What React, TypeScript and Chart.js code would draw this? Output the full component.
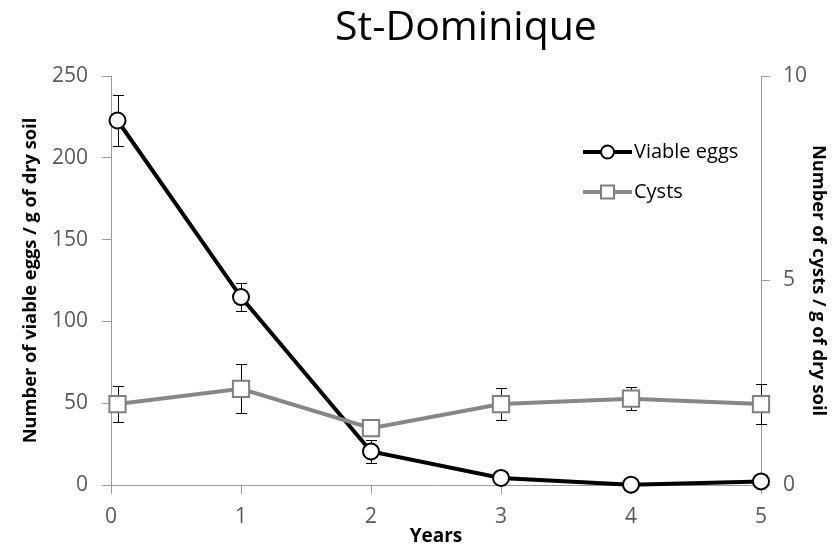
import React, { useEffect, useRef } from "react";
import { Chart, registerables } from "chart.js";

Chart.register(...registerables);

const chartTitle = "St-Dominique";
const years = [0.05, 1, 2, 3, 4, 5];
const viableEggs = [222.8, 114.9, 20.5, 4.3, 0.2, 2.2];
const viableEggsErr = [15.6, 8.8, 7.0, 1.5, 0.5, 1.0];
const cysts = [1.98, 2.35, 1.39, 1.98, 2.11, 1.98];
const cystsErr = [0.44, 0.6, 0.2, 0.38, 0.28, 0.49];
const seriesNames = ["Viable eggs", "Cysts"];
const xTitle = "Years";
const yLeftTitle = "Number of viable eggs / g of dry soil";
const yRightTitle = "Number of cysts / g of dry soil";

const FONT = "'Open Sans', sans-serif";
const EGG_COLOR = "#000000";
const CYST_COLOR = "#878787";
const AXIS_COLOR = "#9a9a9a";
const TICK_TEXT = "#595959";

const errorBarsPlugin = {
  id: "errorBars",
  beforeDatasetDraw(chart: any, args: any) {
    const ds = chart.data.datasets[args.index];
    const errs: number[] = ds.errors;
    if (!errs) return;
    const xScale = chart.scales.x;
    const yScale = chart.scales[ds.yAxisID];
    const ctx = chart.ctx;
    ctx.save();
    ctx.strokeStyle = "#000";
    ctx.lineWidth = 1;
    ds.data.forEach((p: any, i: number) => {
      const x = Math.round(xScale.getPixelForValue(p.x)) + 0.5;
      const yt = Math.round(yScale.getPixelForValue(p.y + errs[i])) + 0.5;
      const yb = Math.round(yScale.getPixelForValue(Math.max(0, p.y - errs[i]))) + 0.5;
      ctx.beginPath();
      ctx.moveTo(x, yt);
      ctx.lineTo(x, yb);
      ctx.moveTo(x - 5.5, yt);
      ctx.lineTo(x + 5.5, yt);
      ctx.moveTo(x - 5.5, yb);
      ctx.lineTo(x + 5.5, yb);
      ctx.stroke();
    });
    ctx.restore();
  },
};

const decorPlugin = {
  id: "decor",
  afterDraw(chart: any) {
    const ctx = chart.ctx;
    const area = chart.chartArea;
    ctx.save();
    // title
    ctx.fillStyle = "#000";
    ctx.font = `41px ${FONT}`;
    ctx.textAlign = "center";
    ctx.textBaseline = "alphabetic";
    ctx.fillText(chartTitle, 466, 40);
    // legend
    const lx1 = area.left + 472;
    const lx2 = area.left + 521;
    const mid = (lx1 + lx2) / 2;
    const rows = [
      { y: area.top + 76, color: EGG_COLOR, shape: "circle", name: seriesNames[0] },
      { y: area.top + 116, color: CYST_COLOR, shape: "rect", name: seriesNames[1] },
    ];
    rows.forEach((r) => {
      ctx.strokeStyle = r.color;
      ctx.lineWidth = 4;
      ctx.beginPath();
      ctx.moveTo(lx1, r.y);
      ctx.lineTo(lx2, r.y);
      ctx.stroke();
      ctx.fillStyle = "#fff";
      ctx.lineWidth = 2;
      ctx.beginPath();
      if (r.shape === "circle") {
        ctx.arc(mid, r.y, 6.5, 0, Math.PI * 2);
      } else {
        ctx.strokeStyle = "#7f7f7f";
        ctx.rect(mid - 6.5, r.y - 6.5, 13, 13);
      }
      ctx.fill();
      ctx.stroke();
      ctx.fillStyle = "#000";
      ctx.font = `20px ${FONT}`;
      ctx.textAlign = "left";
      ctx.textBaseline = "middle";
      ctx.fillText(r.name, lx2 + 2, r.y);
    });
    ctx.restore();
  },
};

export default function App() {
  const canvasRef = useRef<HTMLCanvasElement | null>(null);

  useEffect(() => {
    document.body.style.margin = "0";
    const canvas = canvasRef.current;
    if (!canvas) return;
    const chart = new Chart(canvas, {
      type: "line",
      data: {
        datasets: [
          {
            label: seriesNames[0],
            data: years.map((x, i) => ({ x, y: viableEggs[i] })),
            errors: viableEggsErr,
            yAxisID: "y",
            borderColor: EGG_COLOR,
            borderWidth: 4,
            pointRadius: 8,
            pointHoverRadius: 8,
            pointBorderWidth: 2,
            pointBackgroundColor: "#fff",
            pointBorderColor: EGG_COLOR,
            pointStyle: "circle",
            tension: 0,
            clip: false,
            order: 2,
          } as any,
          {
            label: seriesNames[1],
            data: years.map((x, i) => ({ x, y: cysts[i] })),
            errors: cystsErr,
            yAxisID: "y1",
            borderColor: CYST_COLOR,
            borderWidth: 4,
            pointRadius: 11.5,
            pointHoverRadius: 11.5,
            pointBorderWidth: 2,
            pointBackgroundColor: "#fff",
            pointBorderColor: "#7f7f7f",
            pointStyle: "rect",
            tension: 0,
            clip: false,
            order: 1,
          } as any,
        ],
      },
      options: {
        animation: false,
        responsive: false,
        layout: { padding: { top: 76, left: 0, right: 0, bottom: 0 } },
        plugins: {
          legend: { display: false },
          title: { display: false },
          tooltip: { enabled: false },
        },
        scales: {
          x: {
            type: "linear",
            min: 0,
            max: 5,
            ticks: { stepSize: 1, color: TICK_TEXT, font: { family: FONT, size: 21 }, padding: 10 },
            grid: { drawOnChartArea: false, color: AXIS_COLOR, tickLength: 9 },
            border: { color: AXIS_COLOR, width: 1 },
            title: {
              display: true,
              text: xTitle,
              color: "#000",
              font: { family: FONT, size: 19, weight: "bold" },
              padding: { top: 0, bottom: 0 },
            },
            afterFit(scale: any) {
              scale.height = 63;
            },
          },
          y: {
            type: "linear",
            position: "left",
            min: 0,
            max: 250,
            ticks: { stepSize: 50, color: TICK_TEXT, font: { family: FONT, size: 21 }, padding: 14 },
            grid: { drawOnChartArea: false, color: AXIS_COLOR, tickLength: 9 },
            border: { color: AXIS_COLOR, width: 1 },
            title: {
              display: true,
              text: yLeftTitle,
              color: "#000",
              font: { family: FONT, size: 18.3, weight: "bold" },
              padding: { top: 20, bottom: 0 },
            },
            afterFit(scale: any) {
              scale.width = 111;
            },
          },
          y1: {
            type: "linear",
            position: "right",
            min: 0,
            max: 10,
            ticks: { stepSize: 5, color: TICK_TEXT, font: { family: FONT, size: 21 }, padding: 13 },
            grid: { drawOnChartArea: false, color: AXIS_COLOR, tickLength: 9 },
            border: { color: AXIS_COLOR, width: 1 },
            title: {
              display: true,
              text: yRightTitle,
              color: "#000",
              font: { family: FONT, size: 18.3, weight: "bold" },
              padding: { top: 6, bottom: 0 },
            },
            afterFit(scale: any) {
              scale.width = 74;
            },
          },
        },
      } as any,
      plugins: [errorBarsPlugin, decorPlugin],
    });
    return () => chart.destroy();
  }, []);

  return (
    <div style={{ position: "absolute", left: 0, top: 0, width: 835, height: 548, background: "#fff" }}>
      <canvas ref={canvasRef} width={835} height={548} />
    </div>
  );
}
